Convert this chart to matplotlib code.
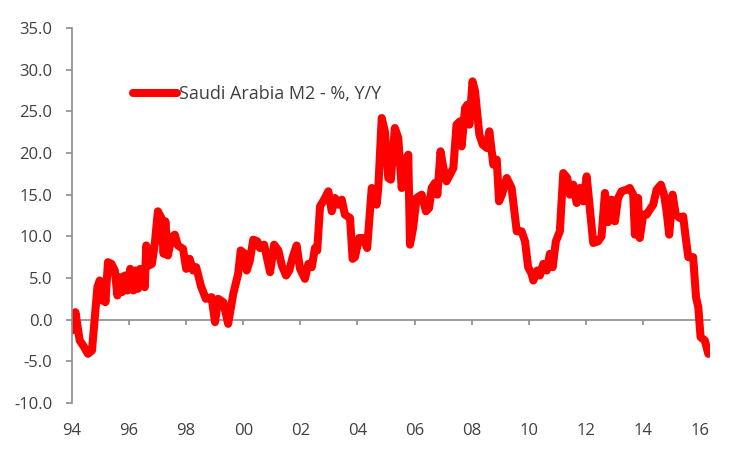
import matplotlib.pyplot as plt

# decimal year and y/y growth (%)
years = [1994.00, 1994.12, 1994.27, 1994.39, 1994.56, 1994.70, 1994.80, 1994.89, 1994.97, 1995.05,
         1995.12, 1995.17, 1995.26, 1995.38, 1995.50, 1995.59, 1995.67, 1995.75, 1995.85, 1995.94,
         1996.04, 1996.15, 1996.23, 1996.31, 1996.39, 1996.55, 1996.60, 1996.70, 1996.80, 1996.90,
         1997.01, 1997.13, 1997.21, 1997.27, 1997.36, 1997.48, 1997.60, 1997.71, 1997.89, 1998.00,
         1998.12, 1998.24, 1998.35, 1998.52, 1998.69, 1998.89, 1999.01, 1999.12, 1999.30, 1999.47,
         1999.65, 1999.82, 1999.91, 2000.06, 2000.12, 2000.23, 2000.35, 2000.49, 2000.58, 2000.73,
         2000.94, 2001.08, 2001.23, 2001.35, 2001.50, 2001.61, 2001.73, 2001.87, 2001.99, 2002.16,
         2002.28, 2002.40, 2002.51, 2002.59, 2002.69, 2002.83, 2002.98, 2003.10, 2003.21, 2003.33,
         2003.45, 2003.56, 2003.74, 2003.83, 2003.91, 2004.06, 2004.20, 2004.34, 2004.50, 2004.67,
         2004.73, 2004.85, 2004.96, 2005.08, 2005.17, 2005.31, 2005.43, 2005.55, 2005.66, 2005.78,
         2005.84, 2005.95, 2006.07, 2006.25, 2006.40, 2006.51, 2006.60, 2006.71, 2006.80, 2006.91,
         2007.01, 2007.12, 2007.24, 2007.36, 2007.47, 2007.59, 2007.65, 2007.77, 2007.85, 2007.92,
         2008.03, 2008.12, 2008.20, 2008.27, 2008.39, 2008.53, 2008.62, 2008.76, 2008.88, 2008.96,
         2009.06, 2009.23, 2009.40, 2009.58, 2009.75, 2009.87, 2009.98, 2010.10, 2010.16, 2010.30,
         2010.39, 2010.51, 2010.63, 2010.74, 2010.84, 2010.95, 2011.09, 2011.21, 2011.35, 2011.44,
         2011.56, 2011.68, 2011.79, 2011.91, 2012.03, 2012.14, 2012.26, 2012.43, 2012.55, 2012.67,
         2012.78, 2012.90, 2013.02, 2013.13, 2013.25, 2013.43, 2013.54, 2013.66, 2013.72, 2013.83,
         2013.89, 2014.01, 2014.13, 2014.24, 2014.36, 2014.48, 2014.63, 2014.74, 2014.83, 2014.92,
         2015.04, 2015.15, 2015.29, 2015.41, 2015.50, 2015.59, 2015.76, 2015.86, 2015.94, 2016.02,
         2016.17, 2016.29]

m2_yoy = [-1.3, 0.9, -2.5, -3.1, -4.1, -3.7, 0.3, 3.9, 4.7, 2.3,
          4.3, 2.1, 6.9, 6.7, 5.9, 2.9, 5.1, 3.3, 5.3, 3.5,
          6.1, 3.5, 5.9, 3.7, 6.1, 3.9, 8.9, 6.5, 6.7, 9.1,
          13.0, 12.2, 7.9, 11.8, 7.7, 9.8, 10.2, 8.9, 8.5, 6.1,
          7.3, 5.9, 6.3, 4.0, 2.5, 2.7, -0.3, 2.5, 2.1, -0.5,
          3.1, 5.5, 8.3, 7.9, 5.9, 7.1, 9.6, 9.4, 8.6, 9.0,
          5.7, 9.0, 8.3, 6.5, 5.3, 5.9, 7.5, 8.9, 6.1, 4.9,
          6.7, 6.3, 8.6, 8.3, 13.6, 14.4, 15.4, 13.0, 14.6, 13.8,
          14.4, 12.6, 12.2, 7.3, 7.5, 9.8, 9.8, 8.6, 15.8, 13.8,
          15.8, 24.2, 22.6, 17.0, 16.8, 23.0, 21.8, 15.8, 18.8, 19.8,
          9.0, 11.0, 14.6, 15.0, 13.0, 13.4, 15.8, 16.4, 15.0, 20.2,
          18.2, 16.6, 17.4, 18.2, 23.4, 23.8, 20.8, 25.4, 25.8, 23.4,
          28.6, 27.4, 24.6, 22.2, 21.0, 20.6, 22.6, 18.6, 19.2, 14.2,
          15.0, 17.0, 15.8, 10.6, 10.6, 9.4, 6.3, 5.5, 4.7, 5.9,
          5.3, 6.7, 5.9, 7.9, 6.3, 9.4, 10.6, 17.6, 17.0, 15.0,
          16.2, 14.0, 15.8, 14.2, 17.2, 13.4, 9.2, 9.4, 10.0, 15.2,
          11.7, 14.4, 11.8, 14.6, 15.4, 15.6, 15.8, 15.0, 10.2, 14.6,
          9.8, 12.6, 12.6, 13.2, 13.8, 15.6, 16.2, 15.0, 13.0, 10.2,
          15.0, 12.6, 12.2, 12.4, 9.8, 7.5, 7.5, 2.7, 1.5, -2.1,
          -2.5, -4.1]

tick_years = list(range(1994, 2017, 2))
tick_labels = ["%02d" % (y % 100) for y in tick_years]
y_ticks = [-10, -5, 0, 5, 10, 15, 20, 25, 30, 35]

plt.rcParams['font.family'] = ['Open Sans', 'DejaVu Sans']
text_col = "#404040"
axis_col = "#8c8c8c"
fsize = 12

fig = plt.figure(figsize=(7.53, 4.53), dpi=100)
ax = fig.add_axes([72/753, 1-403/453, (710-72)/753, (403-28)/453])

ax.plot(years, m2_yoy, color="#ff0000", lw=5.8, solid_joinstyle="round",
        solid_capstyle="round", label="Saudi Arabia M2 - %, Y/Y")

ax.set_xlim(1994, 2016.35)
ax.set_ylim(-10, 35)
ax.set_yticks(y_ticks)
ax.set_yticklabels(["%.1f" % v for v in y_ticks])
ax.set_xticks(tick_years)
ax.set_xticklabels(tick_labels)

for s in ["top", "right"]:
    ax.spines[s].set_visible(False)
ax.spines["left"].set_color(axis_col)
ax.spines["left"].set_linewidth(1.2)
ax.spines["bottom"].set_color(axis_col)
ax.spines["bottom"].set_linewidth(1.2)
ax.spines["bottom"].set_position(("data", 0))
ax.spines["bottom"].set_zorder(1)

ax.tick_params(axis="y", direction="out", length=4, width=1.2, color=axis_col,
               labelcolor=text_col, labelsize=fsize, pad=10)
ax.tick_params(axis="x", direction="out", length=3.5, width=1.2, color=axis_col,
               labelcolor=text_col, labelsize=fsize, pad=71)

# legend sits inside the plot, no frame
leg = ax.legend(loc="center left", bbox_to_anchor=(133/753, 1-94/453),
                bbox_transform=fig.transFigure, frameon=False, borderpad=0,
                borderaxespad=0, handlelength=2.45, handletextpad=0.1,
                fontsize=13)
for t in leg.get_texts():
    t.set_color(text_col)

fig.savefig("out.png", dpi=100)
